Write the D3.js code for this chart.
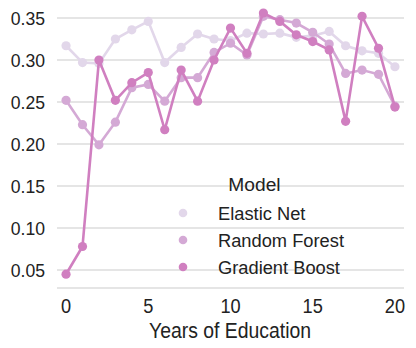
<!DOCTYPE html>
<html>
<head>
<meta charset="utf-8">
<script src="https://cdn.jsdelivr.net/npm/d3@7"></script>
<style>
  body { margin: 0; background: #fff; }
  text { font-family: "Liberation Sans", Arial, sans-serif; fill: #222222; }
</style>
</head>
<body>
<script>
var width = 416,
    height = 348,
    margin = { left: 57, right: 12, top: 5, bottom: 60 };

// data
var years = d3.range(0, 21);
var elasticNet = [0.317, 0.297, 0.296, 0.325, 0.336, 0.346, 0.297, 0.315, 0.331, 0.325,
                  0.323, 0.332, 0.331, 0.332, 0.327, 0.329, 0.334, 0.317, 0.311, 0.308, 0.292];
var randomForest = [0.252, 0.223, 0.199, 0.226, 0.267, 0.271, 0.251, 0.279, 0.279, 0.309,
                    0.320, 0.306, 0.352, 0.348, 0.344, 0.333, 0.319, 0.284, 0.288, 0.283, 0.245];
var gradientBoost = [0.045, 0.078, 0.300, 0.252, 0.273, 0.285, 0.217, 0.288, 0.251, 0.300,
                     0.338, 0.308, 0.356, 0.346, 0.330, 0.322, 0.312, 0.227, 0.352, 0.314, 0.244];
var models = ["Elastic Net", "Random Forest", "Gradient Boost"];
var colors = ["#e2d7ea", "#d4a9d5", "#d07fc0"];
var yTicks = [0.05, 0.10, 0.15, 0.20, 0.25, 0.30, 0.35];
var xTicks = [0, 5, 10, 15, 20];

var series = [elasticNet, randomForest, gradientBoost];

var svg = d3.select("body").append("svg")
    .attr("width", width)
    .attr("height", height);

var x = d3.scaleLinear()
    .domain([-0.55, 20.55])
    .range([margin.left, width - margin.right]);
var y = d3.scaleLinear()
    .domain([0.0286, 0.3655])
    .range([height - margin.bottom, margin.top]);

// grid
svg.append("g")
    .selectAll("line")
    .data(yTicks)
    .enter().append("line")
    .attr("x1", margin.left)
    .attr("x2", width - margin.right)
    .attr("y1", function (d) { return y(d); })
    .attr("y2", function (d) { return y(d); })
    .attr("stroke", "#cccccc")
    .attr("stroke-width", 1.1);

// bottom spine
svg.append("line")
    .attr("x1", margin.left)
    .attr("x2", width - margin.right)
    .attr("y1", height - margin.bottom)
    .attr("y2", height - margin.bottom)
    .attr("stroke", "#cccccc")
    .attr("stroke-width", 1.2);

// y tick labels
svg.append("g")
    .selectAll("text")
    .data(yTicks)
    .enter().append("text")
    .attr("transform", function (d) { return "translate(45," + (y(d) + 6.6) + ") scale(1,1.07)"; })
    .attr("text-anchor", "end")
    .style("font-size", "17.6px")
    .text(function (d) { return d3.format(".2f")(d); });

// x tick labels
svg.append("g")
    .selectAll("text")
    .data(xTicks)
    .enter().append("text")
    .attr("transform", function (d) { return "translate(" + x(d) + ",312.5) scale(1,1.08)"; })
    .attr("text-anchor", "middle")
    .style("font-size", "18.2px")
    .text(function (d) { return d; });

svg.append("text")
    .attr("transform", "translate(" + (x(10) - 0.5) + ",337.7) scale(1,1.1)")
    .attr("text-anchor", "middle")
    .style("font-size", "19.4px")
    .text("Years of Education");

var line = d3.line()
    .x(function (d, i) { return x(years[i]); })
    .y(function (d) { return y(d); });

series.forEach(function (s, k) {
    var g = svg.append("g");
    g.append("path")
        .attr("d", line(s))
        .attr("fill", "none")
        .attr("stroke", colors[k])
        .attr("stroke-width", 2.6);
    g.selectAll("circle")
        .data(s)
        .enter().append("circle")
        .attr("cx", function (d, i) { return x(years[i]); })
        .attr("cy", function (d) { return y(d); })
        .attr("r", 4.6)
        .attr("fill", colors[k]);
});

// legend
var legend = svg.append("g");
legend.append("text")
    .attr("x", 254.5)
    .attr("y", 190.5)
    .attr("text-anchor", "middle")
    .style("font-size", "19.2px")
    .text("Model");
models.forEach(function (m, i) {
    legend.append("circle")
        .attr("cx", 183)
        .attr("cy", 213 + i * 27)
        .attr("r", 4.3)
        .attr("fill", colors[i]);
    legend.append("text")
        .attr("x", 218)
        .attr("y", 220 + i * 27)
        .style("font-size", "18.3px")
        .text(m);
});
</script>
</body>
</html>
